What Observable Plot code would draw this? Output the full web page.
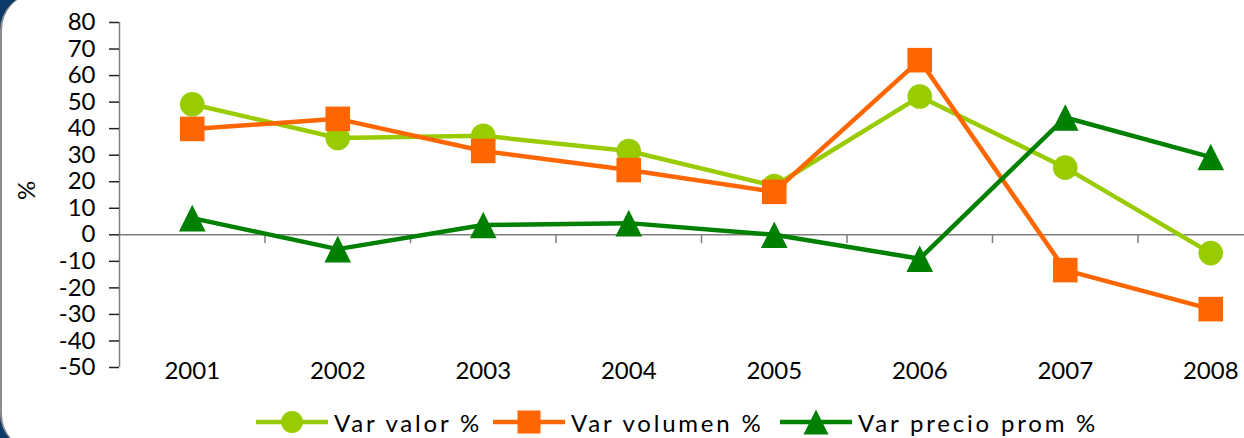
<!DOCTYPE html>
<html>
<head>
<meta charset="utf-8">
<script src="https://cdn.jsdelivr.net/npm/d3@7"></script>
<script src="https://cdn.jsdelivr.net/npm/@observablehq/plot@0.6"></script>
<style>
  html, body { margin: 0; padding: 0; width: 1244px; height: 438px; overflow: hidden; background: #0c3a68; }
  #frame { position: absolute; left: 0px; top: -6px; width: 1400px; height: 456px; background: #fff;
           border-left: 2px solid #8c8c8c; border-radius: 36px; }
  #chart { position: absolute; left: 0; top: 0; }
  .leg { position: absolute; top: 408px; height: 28px; display: flex; align-items: center;
         font-family: Lato, sans-serif; font-size: 24px; letter-spacing: 2.8px; color: #000; white-space: nowrap; }
  .leg svg { margin-right: 6px; }
</style>
</head>
<body>
<div id="frame"></div>
<div id="chart"></div>
<div id="legend"></div>
<script>
const years = [2001, 2002, 2003, 2004, 2005, 2006, 2007, 2008];
const valor   = [49.2, 36.5, 37.3, 31.6, 18.4, 52.1, 25.3, -6.9];
const volumen = [39.9, 43.7, 31.6, 24.4, 16.2, 65.8, -13.3, -28.0];
const precio  = [6.3, -5.4, 3.7, 4.4, 0.0, -9.0, 44.2, 29.3];
const yTicks = [80, 70, 60, 50, 40, 30, 20, 10, 0, -10, -20, -30, -40, -50];
const seriesNames = ["Var valor %", "Var volumen %", "Var precio prom %"];
const colors = ["#99CC00", "#FF6600", "#008000"];

const squareSym = { draw(ctx, size) { const h = Math.sqrt(size / Math.PI); ctx.rect(-h, -h, 2 * h, 2 * h); } };
const triSym = { draw(ctx, size) { const h = Math.sqrt(size / Math.PI);
  ctx.moveTo(0, -h); ctx.lineTo(h, h); ctx.lineTo(-h, h); ctx.closePath(); } };
const symbols = ["circle", squareSym, triSym];
const radii = [12.3, 12.3, 13.3];

const seriesValues = [valor, volumen, precio];
const tables = seriesValues.map(vals => years.map((yr, i) => ({year: yr, value: vals[i]})));
const boundaries = d3.range(years.length + 1).map(i => years[0] - 0.5 + i);

const marks = [
  Plot.ruleY([0], {stroke: "#7f7f7f", strokeWidth: 1.5}),
  Plot.ruleX(boundaries.slice(1), {y1: 0, y2: -3.3, stroke: "#7f7f7f", strokeWidth: 1.5}),
  Plot.ruleX([boundaries[0]], {y1: -50, y2: 80, stroke: "#7f7f7f", strokeWidth: 1.5}),
  Plot.axisY({ticks: yTicks, tickSize: 10, tickPadding: 14, tickFormat: d => String(d), label: null,
              fontSize: 24, stroke: "#222", strokeWidth: 1.5}),
  Plot.axisX({ticks: years, tickSize: 0, tickPadding: -6, tickFormat: d => String(d), label: null, fontSize: 24}),
  Plot.text(["%"], {frameAnchor: "left", dx: -92, dy: 5, rotate: -90, fontSize: 24})
];
tables.forEach((t, k) => {
  marks.push(Plot.line(t, {x: "year", y: "value", stroke: colors[k], strokeWidth: 4.5}));
  marks.push(Plot.dot(t, {x: "year", y: "value", symbol: symbols[k], r: radii[k], fill: colors[k], stroke: "none"}));
});

const chart = Plot.plot({
  width: 1244, height: 395,
  marginLeft: 119, marginRight: 0, marginTop: 22, marginBottom: 28,
  x: {type: "linear", domain: [boundaries[0], boundaries[boundaries.length - 1]], range: [119, 1283]},
  y: {domain: [-50, 80]},
  style: {fontFamily: "Lato, sans-serif", fontSize: "24px", color: "#000", background: "transparent", overflow: "hidden"},
  marks
});
document.getElementById("chart").appendChild(chart);

// Legend
const legendLeft = [256, 493, 780];
const legend = document.getElementById("legend");
seriesNames.forEach((name, k) => {
  const div = document.createElement("div");
  div.className = "leg";
  div.style.left = legendLeft[k] + "px";
  const w = 72, h = 28, cx = w / 2, cy = h / 2;
  let marker;
  if (k === 0) marker = `<circle cx="${cx}" cy="${cy}" r="11" fill="${colors[k]}"/>`;
  else if (k === 1) marker = `<rect x="${cx - 11.5}" y="${cy - 11.5}" width="23" height="23" fill="${colors[k]}"/>`;
  else marker = `<path d="M${cx},${cy - 12.5}L${cx + 12.5},${cy + 12.5}L${cx - 12.5},${cy + 12.5}Z" fill="${colors[k]}"/>`;
  div.innerHTML = `<svg width="${w}" height="${h}"><line x1="0" x2="${w}" y1="${cy}" y2="${cy}" stroke="${colors[k]}" stroke-width="4.5" stroke-linecap="round"/>${marker}</svg><span>${name}</span>`;
  legend.appendChild(div);
});
</script>
</body>
</html>
